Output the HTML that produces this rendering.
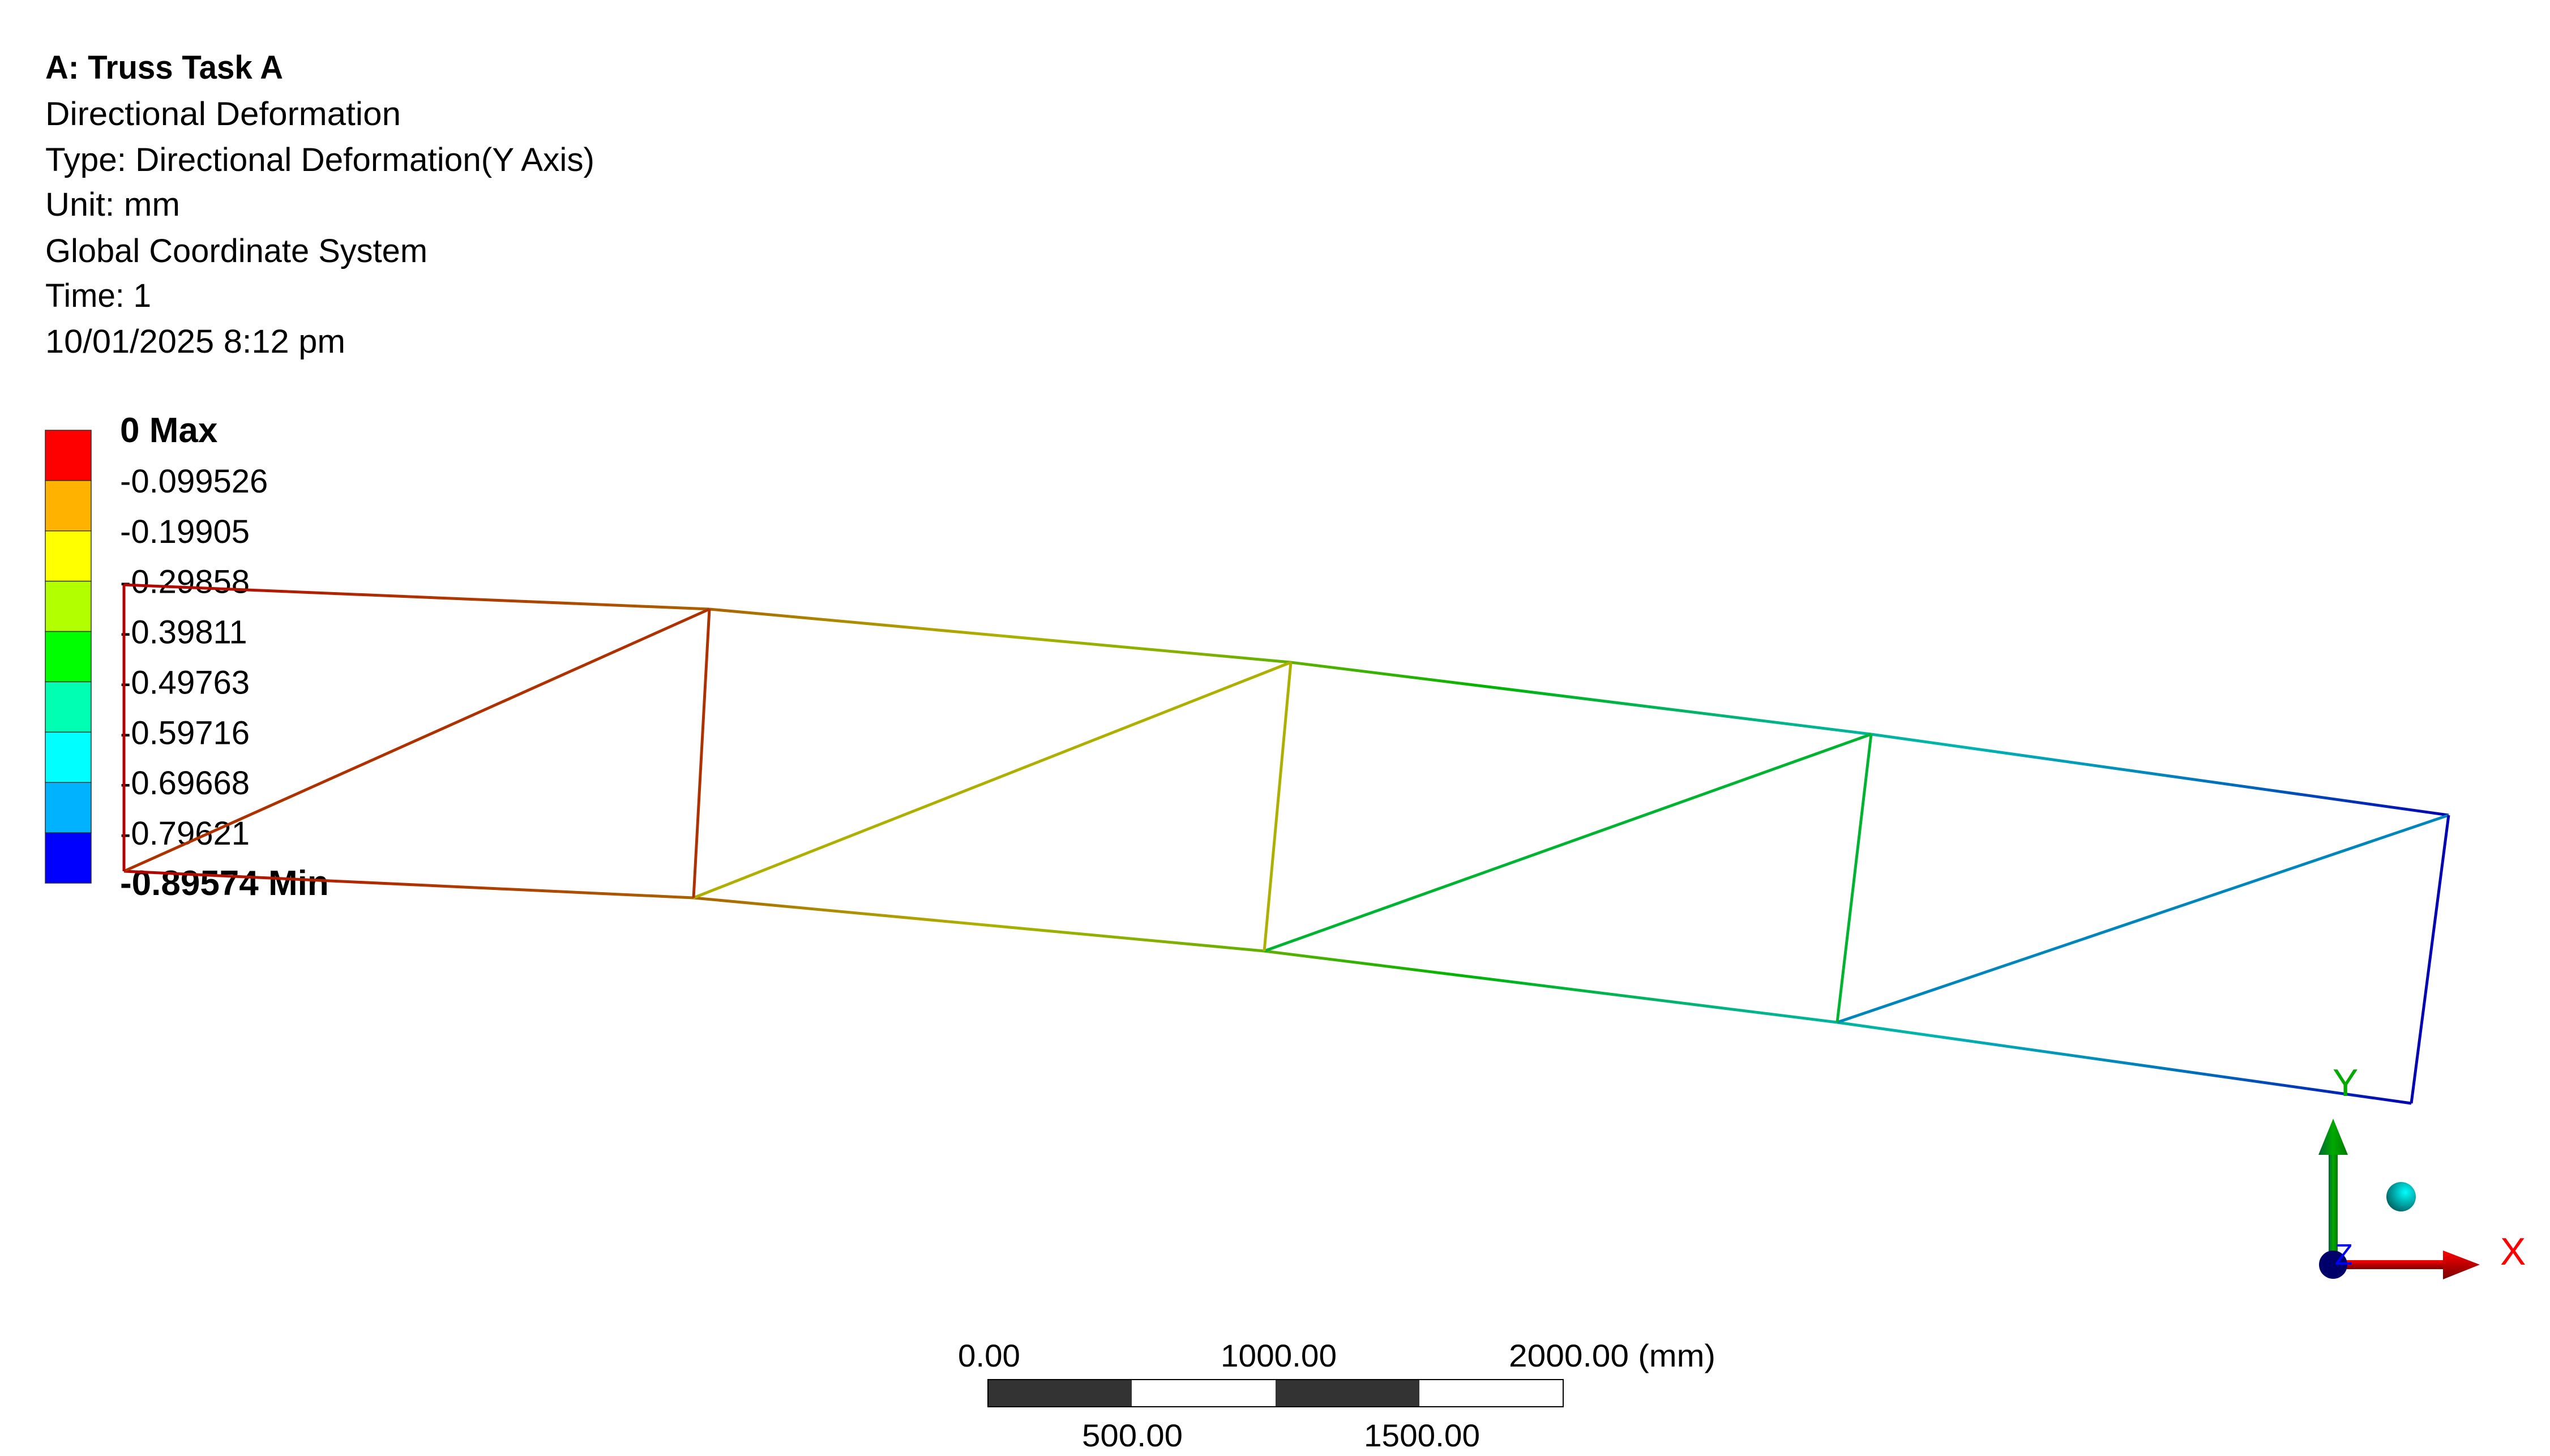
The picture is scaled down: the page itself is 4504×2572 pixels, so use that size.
<!DOCTYPE html>
<html><head><meta charset="utf-8"><style>
html,body{margin:0;padding:0;background:#fff;}
svg{display:block;}
text{font-family:"Liberation Sans",sans-serif;fill:#000;}
</style></head><body>
<svg id="chart" width="4504" height="2572" viewBox="0 0 4504 2572" xmlns="http://www.w3.org/2000/svg">
<g font-size="58">
<text x="80" y="139" font-weight="bold" textLength="420" lengthAdjust="spacingAndGlyphs">A: Truss Task A</text>
<text x="80" y="221" textLength="628" lengthAdjust="spacingAndGlyphs">Directional Deformation</text>
<text x="80" y="302" textLength="970" lengthAdjust="spacingAndGlyphs">Type: Directional Deformation(Y Axis)</text>
<text x="80" y="381" textLength="238" lengthAdjust="spacingAndGlyphs">Unit: mm</text>
<text x="80" y="463" textLength="675" lengthAdjust="spacingAndGlyphs">Global Coordinate System</text>
<text x="80" y="542" textLength="187" lengthAdjust="spacingAndGlyphs">Time: 1</text>
<text x="80" y="623" textLength="530" lengthAdjust="spacingAndGlyphs">10/01/2025 8:12 pm</text>
</g>
<g id="legend"></g>
<g id="truss"></g>
<g>
<defs>
<linearGradient id="gy" x1="0" x2="1" y1="0" y2="0"><stop offset="0" stop-color="#063"/><stop offset="0.5" stop-color="#0a0"/><stop offset="1" stop-color="#070"/></linearGradient>
<linearGradient id="rx" x1="0" x2="0" y1="0" y2="1"><stop offset="0" stop-color="#f00"/><stop offset="1" stop-color="#700"/></linearGradient>
<radialGradient id="cy" cx="0.65" cy="0.35" r="0.7"><stop offset="0" stop-color="#0ff"/><stop offset="1" stop-color="#066"/></radialGradient>
</defs>
<rect x="4113" y="2035" width="16" height="200" fill="url(#gy)"/>
<polygon points="4121,1976 4147,2040 4095,2040" fill="url(#gy)"/>
<rect x="4121" y="2226" width="196" height="16" fill="url(#rx)"/>
<polygon points="4315,2209 4380,2234 4315,2260" fill="url(#rx)"/>
<ellipse cx="4121" cy="2234" rx="25" ry="25" fill="#00006a"/>
<text x="4124" y="2234" font-size="52" style="fill:#00f">Z</text>
<text x="4120" y="1936" font-size="68" style="fill:#0a0">Y</text>
<text x="4416" y="2234" font-size="68" style="fill:#f00">X</text>
<ellipse cx="4241" cy="2114" rx="26" ry="26" fill="url(#cy)"/>
</g>
<g>
<rect x="1745" y="2437" width="254" height="48" fill="#333"/>
<rect x="1999" y="2437" width="254" height="48" fill="#fff"/>
<rect x="2253" y="2437" width="254" height="48" fill="#333"/>
<rect x="2507" y="2437" width="254" height="48" fill="#fff"/>
<rect x="1745" y="2437" width="1016" height="48" fill="none" stroke="#000" stroke-width="2"/>
<g font-size="56">
<text x="1692" y="2414" textLength="110" lengthAdjust="spacingAndGlyphs">0.00</text>
<text x="2156" y="2414" textLength="205" lengthAdjust="spacingAndGlyphs">1000.00</text>
<text x="2665" y="2414" textLength="365" lengthAdjust="spacingAndGlyphs">2000.00 (mm)</text>
<text x="1911" y="2555" textLength="178" lengthAdjust="spacingAndGlyphs">500.00</text>
<text x="2409" y="2555" textLength="205" lengthAdjust="spacingAndGlyphs">1500.00</text>
</g>
</g>
</svg>
<script>
// Legend data
const legendLabels = ["0 Max","-0.099526","-0.19905","-0.29858","-0.39811","-0.49763","-0.59716","-0.69668","-0.79621","-0.89574 Min"];
const bandColors = ["#ff0000","#ffb200","#ffff00","#b2ff00","#00ff00","#00ffb2","#00ffff","#00b2ff","#0000ff"];
// Truss data: node deflections (mm, Y) per panel column
const nodeDeflection = [0, -0.1, -0.36, -0.62, -0.8957];
// Deformed node positions in the view
const topNodesX = [219, 1253, 2280, 3305, 4325];
const topNodesY = [1033, 1076, 1170, 1297, 1440];
const botNodesX = [219, 1225, 2233, 3245, 4259];
const botNodesY = [1539, 1586, 1680, 1806, 1949];

const NS = "http://www.w3.org/2000/svg";
const vmax = 0, vmin = -0.89574;
const lgX = 80, lgY = 760, lgW = 81, lgH = 800;
const bandH = lgH / bandColors.length;
const legend = document.getElementById('legend');
bandColors.forEach((c,i)=>{
  const r = document.createElementNS(NS,'rect');
  
  
  r.setAttribute('x',lgX); r.setAttribute('y',lgY+i*bandH);
  r.setAttribute('width',lgW); r.setAttribute('height',bandH);
  r.setAttribute('fill',c); r.setAttribute('stroke','#333'); r.setAttribute('stroke-width','1.5');
  legend.appendChild(r);
});
legendLabels.forEach((t,i)=>{
  const tx = document.createElementNS(NS,'text');
  
  
  tx.setAttribute('x',212);
  tx.setAttribute('y',lgY+i*bandH+21);
  tx.setAttribute('font-size','58');
  if(i===0||i===legendLabels.length-1){ tx.setAttribute('font-weight','bold'); tx.setAttribute('font-size','62'); }
  tx.textContent = t;
  legend.appendChild(tx);
});

// Darkened contour colormap for wire lines
const lineCols = [[180,0,0],[170,110,0],[176,176,0],[120,176,0],[0,180,0],[0,180,130],[0,180,180],[0,120,190],[0,0,180]];
function colorOf(v){
  let f = (vmax - v)/(vmax - vmin) * (lineCols.length-1);
  f = Math.max(0, Math.min(lineCols.length-1, f));
  const i = Math.floor(f), t = f - i;
  const a = lineCols[i], b = lineCols[Math.min(i+1,lineCols.length-1)];
  return 'rgb('+a.map((x,k)=>Math.round(x+(b[k]-x)*t)).join(',')+')';
}
const truss = document.getElementById('truss');
const defs = document.createElementNS(NS,'defs');
truss.appendChild(defs);
let gid = 0;
function member(x1,y1,x2,y2,v1,v2,name){
  const id = 'g'+(gid++);
  const g = document.createElementNS(NS,'linearGradient');
  g.setAttribute('id',id); g.setAttribute('gradientUnits','userSpaceOnUse');
  g.setAttribute('x1',x1); g.setAttribute('y1',y1); g.setAttribute('x2',x2); g.setAttribute('y2',y2);
  for(let k=0;k<=6;k++){
    const s = document.createElementNS(NS,'stop');
    s.setAttribute('offset',k/6);
    s.setAttribute('stop-color',colorOf(v1+(v2-v1)*k/6));
    g.appendChild(s);
  }
  defs.appendChild(g);
  const l = document.createElementNS(NS,'line');
  
  
  l.setAttribute('x1',x1); l.setAttribute('y1',y1); l.setAttribute('x2',x2); l.setAttribute('y2',y2);
  l.setAttribute('stroke','url(#'+id+')'); l.setAttribute('stroke-width','5');
  truss.appendChild(l);
}
const n = nodeDeflection.length;
for(let i=0;i<n-1;i++){
  member(topNodesX[i],topNodesY[i],topNodesX[i+1],topNodesY[i+1],nodeDeflection[i],nodeDeflection[i+1],'top-chord');
  member(botNodesX[i],botNodesY[i],botNodesX[i+1],botNodesY[i+1],nodeDeflection[i],nodeDeflection[i+1],'bottom-chord');
  const dm = (nodeDeflection[i]+nodeDeflection[i+1])/2;
  member(botNodesX[i],botNodesY[i],topNodesX[i+1],topNodesY[i+1],dm,dm,'diagonal');
}
for(let i=0;i<n;i++){
  const v = i===0||i===n-1 ? nodeDeflection[i] : (nodeDeflection[i-1]+nodeDeflection[i])/2;
  member(topNodesX[i],topNodesY[i],botNodesX[i],botNodesY[i],v,v,'vertical');
}
</script>
</body></html>
